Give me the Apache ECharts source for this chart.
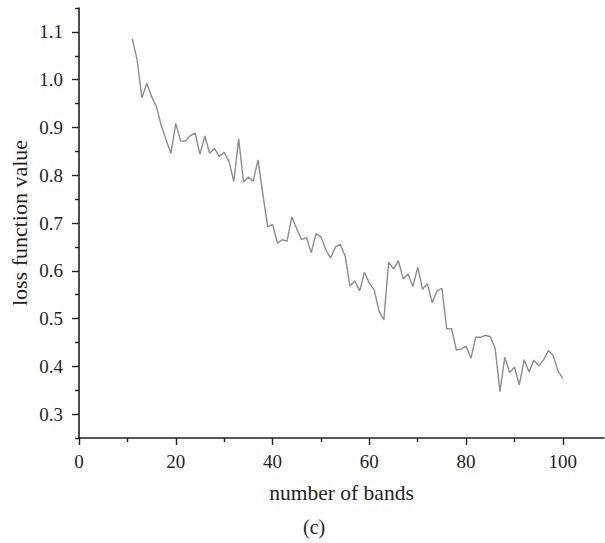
<!DOCTYPE html>
<html lang="en">
<head>
	<meta charset="UTF-8">
	<title>loss function value</title>
	<script type="text/javascript" src="https://cdn.jsdelivr.net/npm/echarts@6/dist/echarts.min.js"></script>
	<style>
		html, body { margin: 0; padding: 0; background: #fff; }
		#chart_show { width: 605px; height: 543px; }
	</style>
</head>
<body>
	<div id="chart_show"></div>
	<script>
		var bands = [11, 12, 13, 14, 15, 16, 17, 18, 19, 20,
			21, 22, 23, 24, 25, 26, 27, 28, 29, 30,
			31, 32, 33, 34, 35, 36, 37, 38, 39, 40,
			41, 42, 43, 44, 45, 46, 47, 48, 49, 50,
			51, 52, 53, 54, 55, 56, 57, 58, 59, 60,
			61, 62, 63, 64, 65, 66, 67, 68, 69, 70,
			71, 72, 73, 74, 75, 76, 77, 78, 79, 80,
			81, 82, 83, 84, 85, 86, 87, 88, 89, 90,
			91, 92, 93, 94, 95, 96, 97, 98, 99, 100];
		var loss = [1.086, 1.042, 0.962, 0.992, 0.965, 0.943, 0.904, 0.874, 0.846, 0.908,
			0.872, 0.871, 0.883, 0.888, 0.844, 0.882, 0.846, 0.856, 0.839, 0.848,
			0.829, 0.787, 0.876, 0.786, 0.796, 0.788, 0.832, 0.760, 0.692, 0.697,
			0.658, 0.665, 0.662, 0.713, 0.688, 0.665, 0.670, 0.638, 0.678, 0.671,
			0.644, 0.627, 0.650, 0.655, 0.631, 0.568, 0.579, 0.558, 0.597, 0.574,
			0.560, 0.516, 0.497, 0.618, 0.604, 0.621, 0.583, 0.593, 0.567, 0.607,
			0.561, 0.573, 0.533, 0.558, 0.563, 0.478, 0.479, 0.434, 0.436, 0.442,
			0.417, 0.461, 0.461, 0.465, 0.462, 0.438, 0.347, 0.419, 0.387, 0.398,
			0.361, 0.414, 0.388, 0.413, 0.401, 0.413, 0.433, 0.423, 0.390, 0.375];

		// tick labels
		var xTicks = [0, 20, 40, 60, 80, 100];
		var xMinor = [10, 30, 50, 70, 90];
		var yTicks = [0.3, 0.4, 0.5, 0.6, 0.7, 0.8, 0.9, 1.0, 1.1];
		var yMinor = [0.25, 0.35, 0.45, 0.55, 0.65, 0.75, 0.85, 0.95, 1.05, 1.15];

		var ink = '#231f20';
		var font = '"Liberation Serif", "Times New Roman", serif';

		var oChart = echarts.init(document.getElementById('chart_show'), null, {renderer: 'svg'});

		var pts = bands.map(function (b, i) { return [b, loss[i]]; });

		var xBase = {
			type: 'value', min: 0, max: 108.5, position: 'bottom',
			splitLine: {show: false}
		};
		var yBase = {
			type: 'value', min: 0.25, max: 1.15, position: 'left',
			splitLine: {show: false}
		};

		var chartopt = {
			animation: false,
			grid: {left: 79, right: 1, top: 8, bottom: 105, containLabel: false, outerBoundsMode: 'none'},
			graphic: [{
				type: 'text', left: 303, top: 517,
				style: {text: '(c)', fill: ink, font: '20px ' + font}
			}],
			xAxis: [
				Object.assign({}, xBase, {
					name: 'number of bands', nameLocation: 'middle', nameGap: 44,
					nameTextStyle: {color: ink, fontFamily: font, fontSize: 21.5},
					axisLine: {show: true, lineStyle: {color: ink, width: 1.6}},
					axisTick: {show: true, length: 4, customValues: xMinor, lineStyle: {color: ink, width: 1.4}},
					axisLabel: {show: false}
				}),
				Object.assign({}, xBase, {
					axisLine: {show: false},
					axisTick: {show: true, length: 7, customValues: xTicks, lineStyle: {color: ink, width: 1.4}},
					axisLabel: {show: true, customValues: xTicks, margin: 14, color: ink, fontFamily: font, fontSize: 19}
				})
			],
			yAxis: [
				Object.assign({}, yBase, {
					name: 'loss function value', nameLocation: 'middle', nameGap: 49,
					nameTextStyle: {color: ink, fontFamily: font, fontSize: 22},
					axisLine: {show: true, lineStyle: {color: ink, width: 1.6}},
					axisTick: {show: true, length: 4, customValues: yMinor, lineStyle: {color: ink, width: 1.4}},
					axisLabel: {show: false}
				}),
				Object.assign({}, yBase, {
					axisLine: {show: false},
					axisTick: {show: true, length: 7, customValues: yTicks, lineStyle: {color: ink, width: 1.4}},
					axisLabel: {
						show: true, customValues: yTicks, margin: 16, color: ink, fontFamily: font, fontSize: 19,
						formatter: function (v) { return v.toFixed(1); }
					}
				})
			],
			series: [{
				name: 'loss',
				type: 'line',
				xAxisIndex: 0,
				yAxisIndex: 0,
				showSymbol: false,
				lineStyle: {color: '#8c8c8c', width: 1.4},
				data: pts
			}]
		};
		oChart.setOption(chartopt);
	</script>
</body>
</html>
